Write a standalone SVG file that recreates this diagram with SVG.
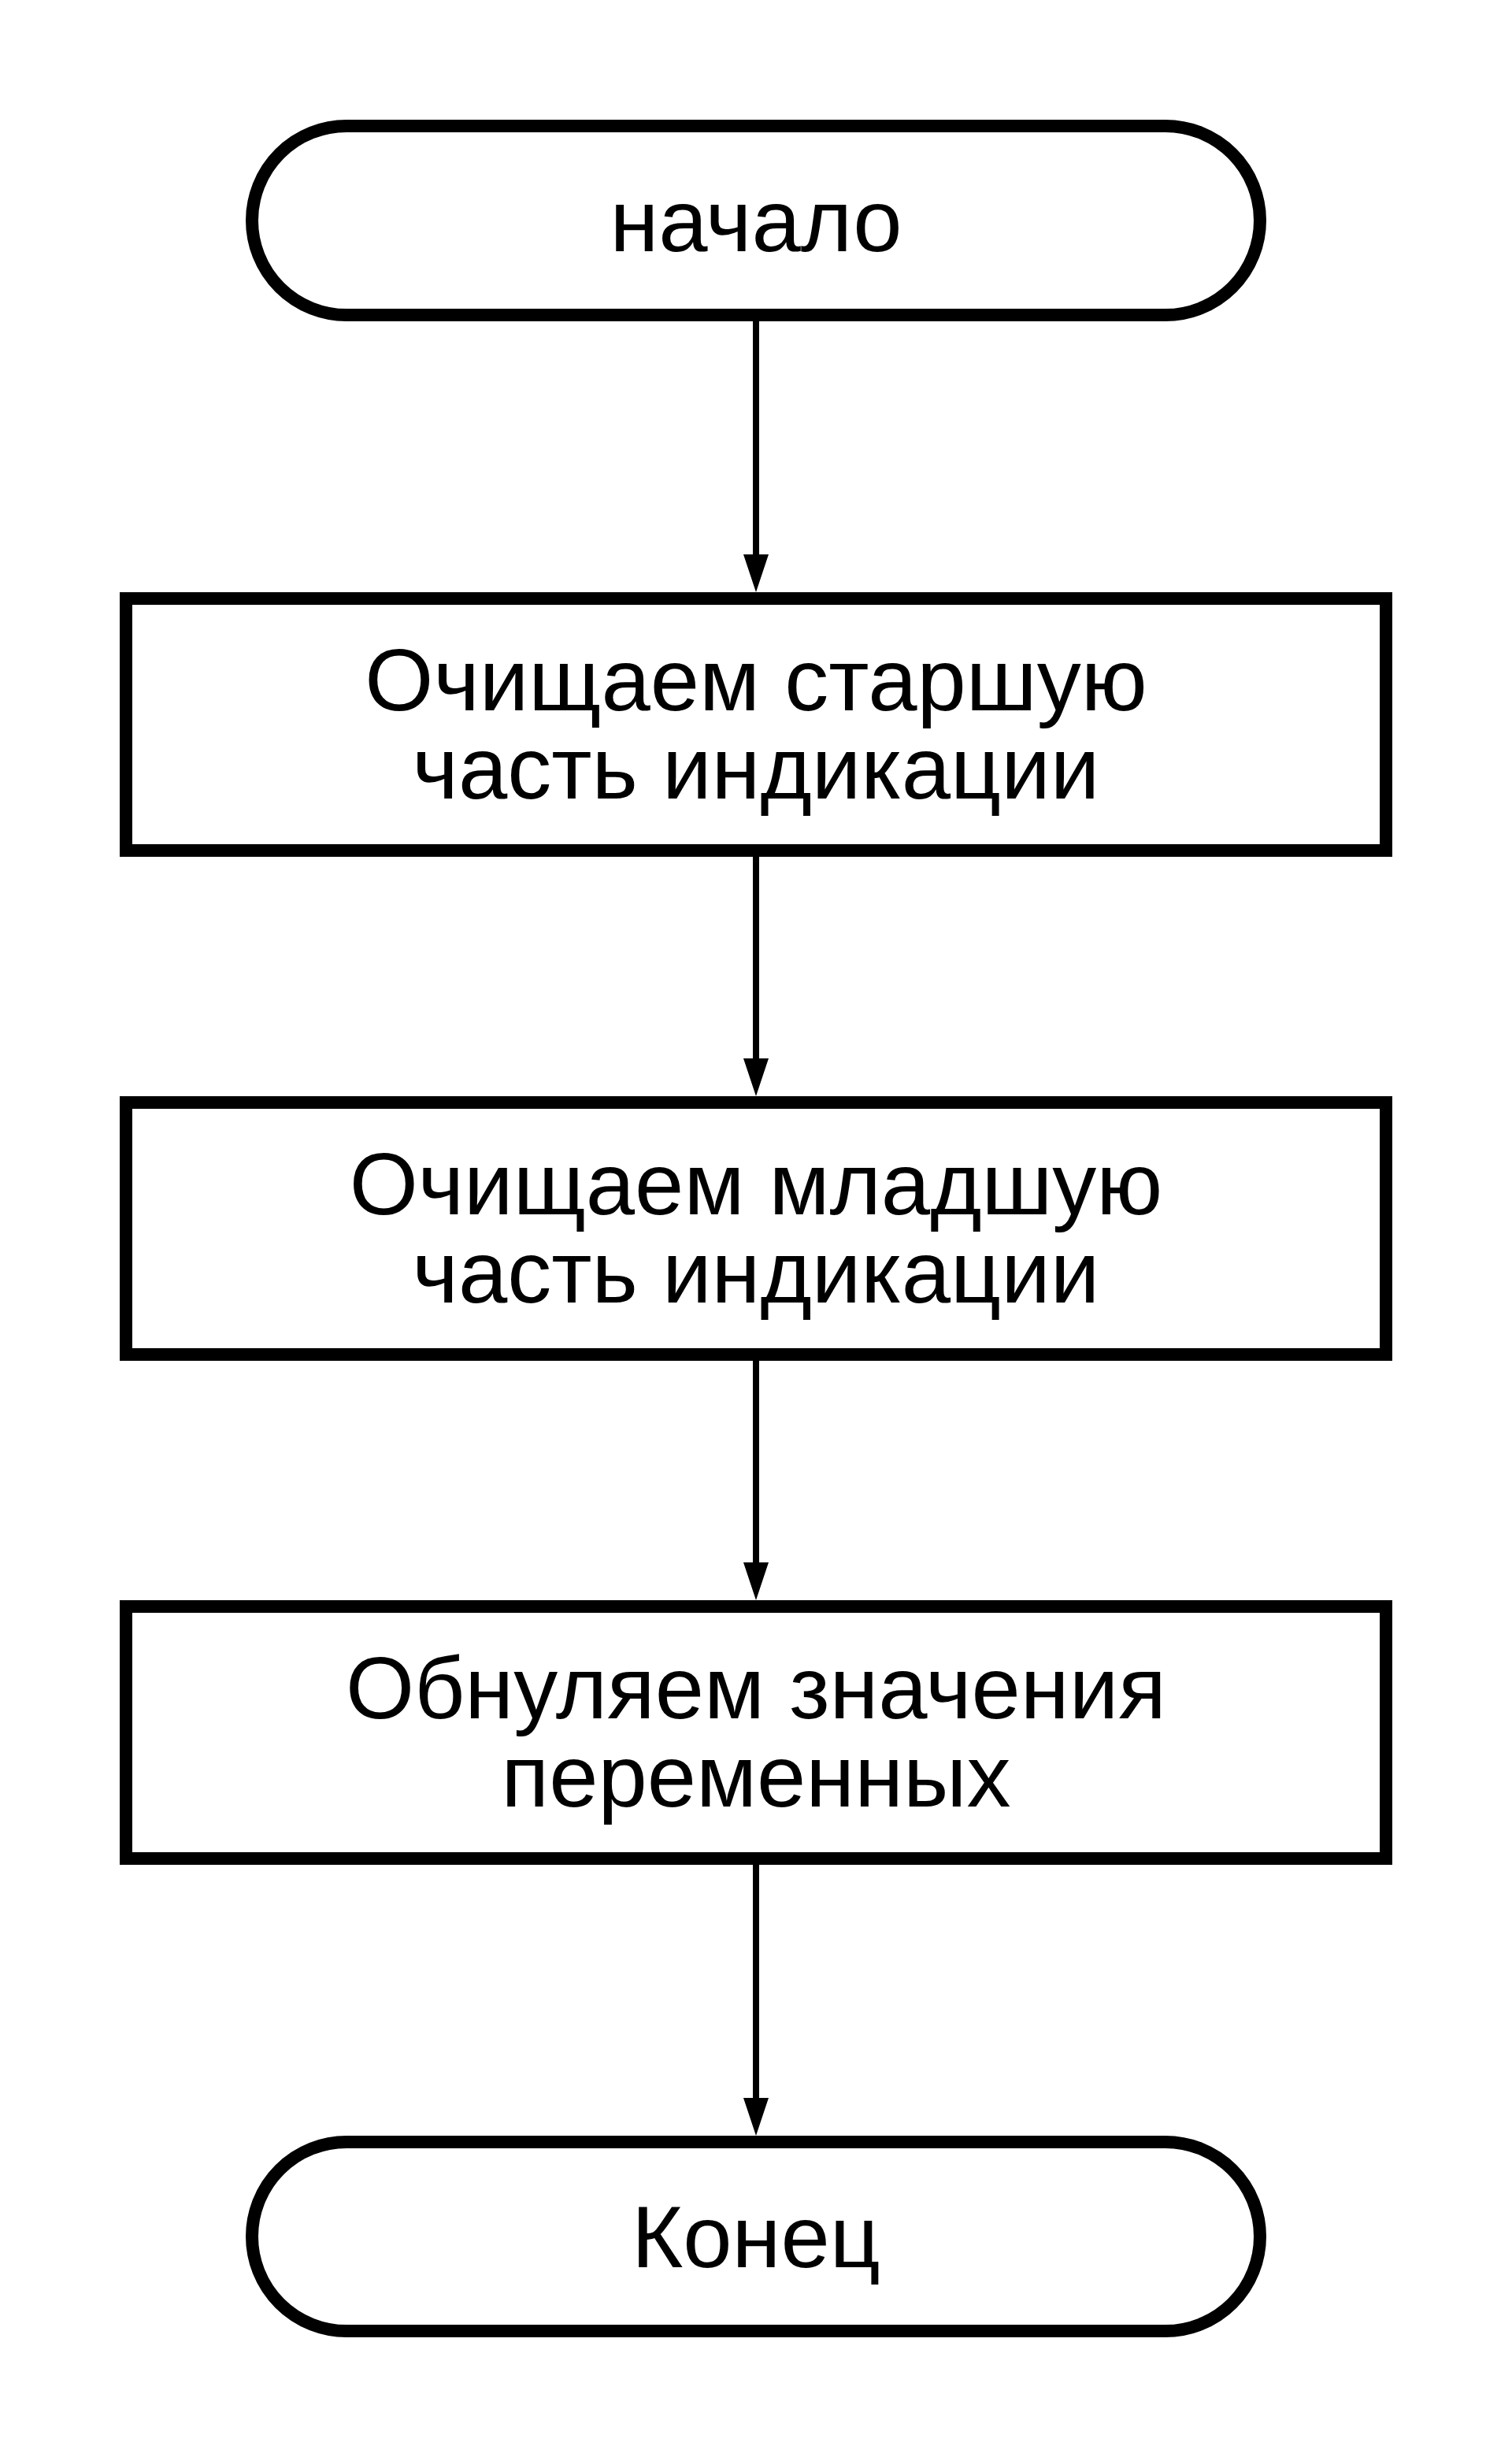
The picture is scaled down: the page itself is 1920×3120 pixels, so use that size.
<svg xmlns="http://www.w3.org/2000/svg" width="1920" height="3120" viewBox="0 0 1920 3120">
  <style>
    .shape { fill: #ffffff; stroke: #000000; stroke-width: 16; }
    .label { font-family: "Liberation Sans", Arial, Helvetica, sans-serif; font-size: 112px; fill: #000000; text-anchor: middle; }
    .edge { stroke: #000000; stroke-width: 8; fill: none; }
    .head { fill: #000000; }
  </style>
  <rect x="0" y="0" width="1920" height="3120" fill="#ffffff"/>

  <g id="connectors">
    <line class="edge" x1="960" y1="400" x2="960" y2="708"/>
    <polygon class="head" points="944,704 976,704 960,752"/>
    <line class="edge" x1="960" y1="1080" x2="960" y2="1348"/>
    <polygon class="head" points="944,1344 976,1344 960,1392"/>
    <line class="edge" x1="960" y1="1720" x2="960" y2="1988"/>
    <polygon class="head" points="944,1984 976,1984 960,2032"/>
    <line class="edge" x1="960" y1="2360" x2="960" y2="2668"/>
    <polygon class="head" points="944,2664 976,2664 960,2712"/>
  </g>

  <g id="start">
    <rect class="shape" x="320" y="160" width="1280" height="240" rx="120" ry="120"/>
    <text class="label" x="960" y="319">начало</text>
  </g>

  <g id="clear-high">
    <rect class="shape" x="160" y="760" width="1600" height="320"/>
    <text class="label" x="960" y="902">Очищаем старшую</text>
    <text class="label" x="960" y="1014">часть индикации</text>
  </g>

  <g id="clear-low">
    <rect class="shape" x="160" y="1400" width="1600" height="320"/>
    <text class="label" x="960" y="1542">Очищаем младшую</text>
    <text class="label" x="960" y="1654">часть индикации</text>
  </g>

  <g id="reset-vars">
    <rect class="shape" x="160" y="2040" width="1600" height="320"/>
    <text class="label" x="960" y="2182">Обнуляем значения</text>
    <text class="label" x="960" y="2294">переменных</text>
  </g>

  <g id="end">
    <rect class="shape" x="320" y="2720" width="1280" height="240" rx="120" ry="120"/>
    <text class="label" x="960" y="2879">Конец</text>
  </g>
</svg>
